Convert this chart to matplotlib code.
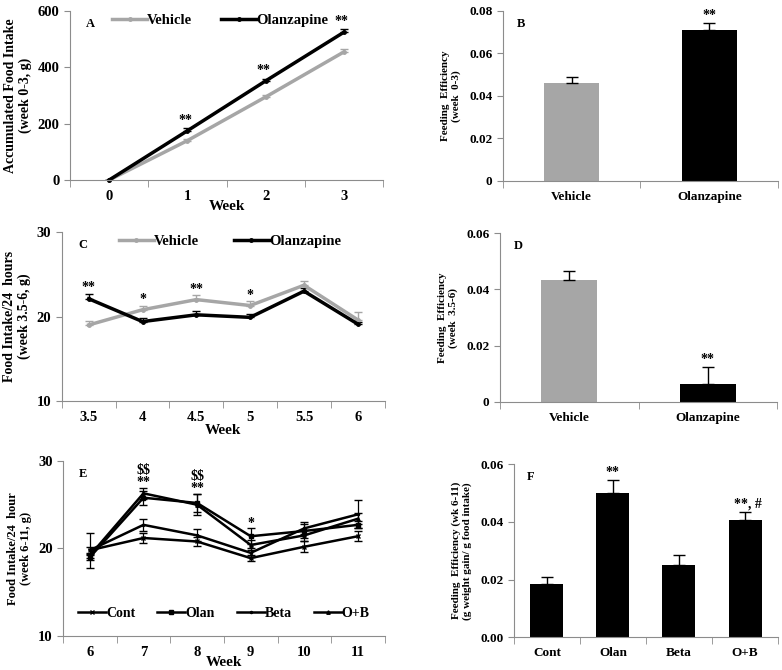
import matplotlib.pyplot as plt
import numpy as np
from matplotlib.ticker import FixedLocator, FormatStrFormatter

plt.rcParams["font.family"] = ["Liberation Serif", "DejaVu Serif"]
plt.rcParams["font.weight"] = "bold"

# panel A
weeks_a = ["0", "1", "2", "3"]
veh_a = [0, 140, 295, 455]
veh_a_err = [0, 6, 6, 10]
olz_a = [0, 175, 352, 525]
olz_a_err = [0, 10, 8, 12]
stars_a = ["", "**", "**", "**"]

# panel B
groups_bd = ["Vehicle", "Olanzapine"]
fe_b = [0.046, 0.071]
fe_b_err = [0.003, 0.0033]
stars_b = ["", "**"]

# panel C
weeks_c = ["3.5", "4", "4.5", "5", "5.5", "6"]
veh_c = [19.0, 20.8, 22.0, 21.3, 23.7, 19.6]
veh_c_err = [0.5, 0.5, 0.5, 0.5, 0.5, 0.9]
olz_c = [22.1, 19.4, 20.2, 19.9, 23.0, 19.1]
olz_c_err = [0.6, 0.4, 0.5, 0.4, 0.4, 0.2]
stars_c = ["**", "*", "**", "*", "", ""]

# panel D
fe_d = [0.0435, 0.0065]
fe_d_err = [0.003, 0.006]
stars_d = ["", "**"]

# panel E
weeks_e = ["6", "7", "8", "9", "10", "11"]
series_e = ["Cont", "Olan", "Beta", "O+B"]
cont_e = [19.8, 21.2, 20.8, 18.9, 20.2, 21.4]
olan_e = [19.0, 25.8, 25.2, 21.4, 22.0, 22.7]
beta_e = [19.8, 22.7, 21.5, 19.5, 22.3, 23.9]
ob_e = [19.2, 26.3, 25.0, 20.4, 21.5, 23.4]
cont_e_err = [0.4, 0.6, 0.5, 0.3, 0.6, 0.6]
olan_e_err = [0.3, 0.8, 1.0, 0.9, 0.8, 0.4]
beta_e_err = [2.0, 0.7, 0.7, 0.5, 0.7, 1.6]
ob_e_err = [0.3, 0.6, 1.2, 0.6, 0.6, 0.6]
stars_e = ["", "\\$\\$\n**", "\\$\\$\n**", "*", "", ""]

# panel F
groups_f = ["Cont", "Olan", "Beta", "O+B"]
fe_f = [0.0183, 0.050, 0.025, 0.0405]
fe_f_err = [0.0027, 0.0045, 0.0035, 0.003]
stars_f = ["", "**", "", "**, #"]

GRAY = "#a6a6a6"
AX = "#8c8c8c"

fig = plt.figure(figsize=(7.82, 6.7), dpi=100)


def style(ax, n, ylim, yticks, fmt=None, tick_fs=10.5):
    ax.set_xlim(-0.5, n - 0.5)
    ax.set_ylim(*ylim)
    ax.set_yticks(yticks)
    if fmt:
        ax.yaxis.set_major_formatter(FormatStrFormatter(fmt))
    ax.set_xticks(range(n))
    ax.xaxis.set_minor_locator(FixedLocator(np.arange(-0.5, n, 1.0)))
    ax.tick_params(axis="x", which="major", length=0, pad=7, labelsize=tick_fs)
    ax.tick_params(axis="x", which="minor", length=5, color=AX, direction="out")
    ax.tick_params(axis="y", length=4, color=AX, labelsize=tick_fs)
    for s in ["top", "right"]:
        ax.spines[s].set_visible(False)
    for s in ["left", "bottom"]:
        ax.spines[s].set_color(AX)
    for lab in ax.get_xticklabels() + ax.get_yticklabels():
        lab.set_fontweight("bold")


def panel_letter(ax, t):
    ax.text(0.05, 0.96, t, transform=ax.transAxes, fontsize=9, fontweight="bold", va="top")


def two_lines(ax, x, v1, e1, v2, e2):
    ax.errorbar(x, v1, yerr=[np.zeros(len(x)), e1], fmt="none", ecolor=GRAY, capsize=3, elinewidth=1)
    ax.errorbar(x, v2, yerr=[np.zeros(len(x)), e2], fmt="none", ecolor="black", capsize=3, elinewidth=1)
    ax.plot(x, v1, color=GRAY, lw=2.5, marker="o", ms=2.5, label="Vehicle", clip_on=False)
    ax.plot(x, v2, color="black", lw=2.5, marker="o", ms=2.5, label="Olanzapine", clip_on=False)


# ---- A
ax = fig.add_axes([0.0895, 0.7313, 0.4005, 0.2523])
x = np.arange(len(weeks_a))
two_lines(ax, x, veh_a, veh_a_err, olz_a, olz_a_err)
for i, s in enumerate(stars_a):
    if s:
        ax.text(i - 0.03, olz_a[i] + olz_a_err[i] + 15, s, ha="center", fontsize=10)
style(ax, 4, (0, 600), [0, 200, 400, 600])
ax.set_xticklabels(weeks_a)
ax.set_ylabel("Accumulated Food Intake\n(week 0-3, g)", fontsize=10, fontweight="bold", labelpad=4)
ax.set_xlabel("Week", fontsize=11, fontweight="bold", labelpad=-2)
ax.legend(loc="upper center", bbox_to_anchor=(0.48, 1.06), ncol=2, frameon=False, fontsize=10.5,
          handlelength=2.4, columnspacing=2.0, handletextpad=0.0)
panel_letter(ax, "A")

# ---- B
ax = fig.add_axes([0.643, 0.73, 0.352, 0.2536])
ax.bar(range(2), fe_b, width=0.4, color=[GRAY, "black"], yerr=[[0, 0], fe_b_err],
       capsize=4, error_kw=dict(elinewidth=1))
for i, s in enumerate(stars_b):
    if s:
        ax.text(i, fe_b[i] + fe_b_err[i] + 0.002, s, ha="center", fontsize=10)
style(ax, 2, (0, 0.08), [0, 0.02, 0.04, 0.06, 0.08], tick_fs=9.5)
ax.set_yticklabels(["0", "0.02", "0.04", "0.06", "0.08"])
ax.set_xticklabels(groups_bd)
ax.set_ylabel("Feeding  Efficiency\n(week  0-3)", fontsize=8, fontweight="bold", labelpad=6)
panel_letter(ax, "B")

# ---- C
ax = fig.add_axes([0.079, 0.4015, 0.413, 0.2522])
x = np.arange(len(weeks_c))
two_lines(ax, x, veh_c, veh_c_err, olz_c, olz_c_err)
for i, s in enumerate(stars_c):
    if s:
        top = max(veh_c[i] + veh_c_err[i], olz_c[i] + olz_c_err[i])
        ax.text(i, top + 0.3, s, ha="center", fontsize=10)
style(ax, 6, (10, 30), [10, 20, 30])
ax.set_xticklabels(weeks_c)
ax.set_ylabel("Food Intake/24  hours\n(week 3.5-6, g)", fontsize=10, fontweight="bold", labelpad=4)
ax.set_xlabel("Week", fontsize=11, fontweight="bold", labelpad=0)
ax.legend(loc="upper center", bbox_to_anchor=(0.52, 1.06), ncol=2, frameon=False, fontsize=10.5,
          handlelength=2.4, columnspacing=2.4, handletextpad=0.0)
panel_letter(ax, "C")

# ---- D
ax = fig.add_axes([0.639, 0.40, 0.355, 0.252])
ax.bar(range(2), fe_d, width=0.4, color=[GRAY, "black"], yerr=[[0, 0], fe_d_err],
       capsize=4, error_kw=dict(elinewidth=1))
for i, s in enumerate(stars_d):
    if s:
        ax.text(i, fe_d[i] + fe_d_err[i] + 0.0015, s, ha="center", fontsize=10)
style(ax, 2, (0, 0.06), [0, 0.02, 0.04, 0.06], tick_fs=9.5)
ax.set_yticklabels(["0", "0.02", "0.04", "0.06"])
ax.set_xticklabels(groups_bd)
ax.set_ylabel("Feeding  Efficiency\n(week  3.5-6)", fontsize=8, fontweight="bold", labelpad=6)
panel_letter(ax, "D")

# ---- E
ax = fig.add_axes([0.0806, 0.0507, 0.4114, 0.2613])
x = np.arange(len(weeks_e))
markers = ["x", "s", ".", "^"]
msizes = [3.5, 3, 3, 2.5]
vals = [cont_e, olan_e, beta_e, ob_e]
errs = [cont_e_err, olan_e_err, beta_e_err, ob_e_err]
for name, v, e, m, ms in zip(series_e, vals, errs, markers, msizes):
    ax.errorbar(x, v, yerr=e, fmt="none", ecolor="black", capsize=3, elinewidth=0.9)
    ax.plot(x, v, color="black", lw=1.8, marker=m, ms=ms, label=name)
for i, s in enumerate(stars_e):
    if s:
        top = max(v[i] + e[i] for v, e in zip(vals, errs))
        ax.text(i, top + 0.2, s, ha="center", fontsize=10, linespacing=0.9)
style(ax, 6, (10, 30), [10, 20, 30])
ax.set_xticklabels(weeks_e)
ax.set_ylabel("Food Intake/24  hour\n(week 6-11, g)", fontsize=9, fontweight="bold", labelpad=4)
ax.set_xlabel("Week", fontsize=11, fontweight="bold", labelpad=-2)
ax.legend(loc="lower center", bbox_to_anchor=(0.5, 0.02), ncol=4, frameon=False, fontsize=10,
          handlelength=2.0, columnspacing=1.6, handletextpad=0.0)
panel_letter(ax, "E")

# ---- F
ax = fig.add_axes([0.657, 0.049, 0.338, 0.258])
ax.bar(range(4), fe_f, width=0.5, color="black", yerr=[[0] * 4, fe_f_err],
       capsize=4, error_kw=dict(elinewidth=1))
for i, s in enumerate(stars_f):
    if s:
        ax.text(i + (0.05 if "#" in s else 0), fe_f[i] + fe_f_err[i] + 0.0015, s, ha="center", fontsize=10)
style(ax, 4, (0, 0.06), [0, 0.02, 0.04, 0.06], fmt="%.2f", tick_fs=9.5)
ax.set_xticklabels(groups_f)
ax.set_ylabel("Feeding  Efficiency (wk 6-11)\n(g weight gain/ g food intake)", fontsize=8,
              fontweight="bold", labelpad=6)
panel_letter(ax, "F")

fig.savefig("out.png", dpi=100)
